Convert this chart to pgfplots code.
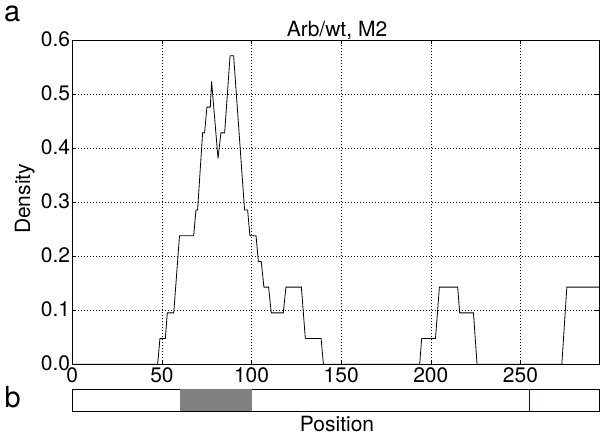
\documentclass[border=0pt]{standalone}
\usepackage{pgfplots}
\pgfplotsset{compat=1.18}
\usepackage{fontspec}
\setmainfont{TeX Gyre Heros}
\definecolor{pureblue}{RGB}{0,0,255}
\definecolor{midgray}{RGB}{128,128,128}
\begin{document}
\begin{tikzpicture}
\path[use as bounding box] (0,0) rectangle (600pt,438pt);
\begin{axis}[
  at={(72.3pt,73.7pt)}, anchor=south west,
  scale only axis, width=527pt, height=324pt,
  xmin=0, xmax=294, ymin=0, ymax=0.6,
  xtick={0,50,100,150,200,250},
  ytick={0,0.1,0.2,0.3,0.4,0.5,0.6},
  /pgf/number format/assume math mode=true,
  yticklabel style={/pgf/number format/fixed, /pgf/number format/fixed zerofill, /pgf/number format/precision=1, anchor=east, inner sep=0pt, xshift=-2pt, yshift=1.5pt},
  xticklabel style={anchor=north, inner sep=0pt, yshift=-3.5pt},
  ticklabel style={font=\fontsize{21}{24}\selectfont},
  tick align=inside, major tick length=4pt,
  tick style={black, line width=0.5pt},
  grid=major,
  major grid style={black, line width=0.5pt, dash pattern=on 1pt off 2pt},
  axis line style={line width=0.7pt},
]
\addplot[black, line width=0.8pt] coordinates {
(0,0) (47.6,0) (48.9,0.0476) (51.9,0.0476) (53.0,0.0952) (56.6,0.0952)
(59.8,0.2381) (67.7,0.2381) (69.0,0.2857) (69.9,0.2857) (72.7,0.4286)
(73.8,0.4286) (75.1,0.4762) (77.0,0.4762) (77.7,0.5238) (81.3,0.3810)
(82.9,0.4286) (85.0,0.4286) (88.0,0.5714) (90.0,0.5714) (96.1,0.2857)
(97.8,0.2857) (99.1,0.2381) (102.5,0.2381) (103.8,0.1905) (105.4,0.1905)
(106.9,0.1429) (109.5,0.1429) (111.0,0.0952) (117.7,0.0952) (119.2,0.1429)
(127.8,0.1429) (130.0,0.0476) (138.8,0.0476) (140.1,0) (193.8,0)
(194.9,0.0476) (202.6,0.0476) (204.8,0.1429) (215.0,0.1429) (216.1,0.0952)
(223.8,0.0952) (225.8,0) (273.1,0) (275.9,0.1429) (294,0.1429)
};
\end{axis}
\begin{axis}[
  at={(72.3pt,27pt)}, anchor=south west,
  scale only axis, width=527pt, height=21.7pt,
  xmin=0, xmax=294, ymin=0, ymax=1,
  xtick=\empty, ytick=\empty,
  axis line style={line width=0.7pt},
]
\addplot[fill=midgray, draw=none] coordinates {(60,0) (100,0) (100,1) (60,1)} -- cycle;
\addplot[draw=pureblue, line width=1.6pt] coordinates {(255,0) (255,1)};
\end{axis}
\node[anchor=base west, inner sep=0pt, font=\fontsize{29}{32}\selectfont] at (4pt,416pt) {a};
\node[anchor=base west, inner sep=0pt, font=\fontsize{29}{32}\selectfont] at (4.5pt,30pt) {b};
\node[anchor=base, inner sep=0pt, font=\fontsize{21}{24}\selectfont] at (337pt,401pt) {Arb/wt, M2};
\node[anchor=base, inner sep=0pt, font=\fontsize{21}{24}\selectfont] at (337pt,6pt) {Position};
\node[anchor=base, inner sep=0pt, rotate=90, font=\fontsize{21}{24}\selectfont] at (30pt,239pt) {Density};
\end{tikzpicture}
\end{document}
